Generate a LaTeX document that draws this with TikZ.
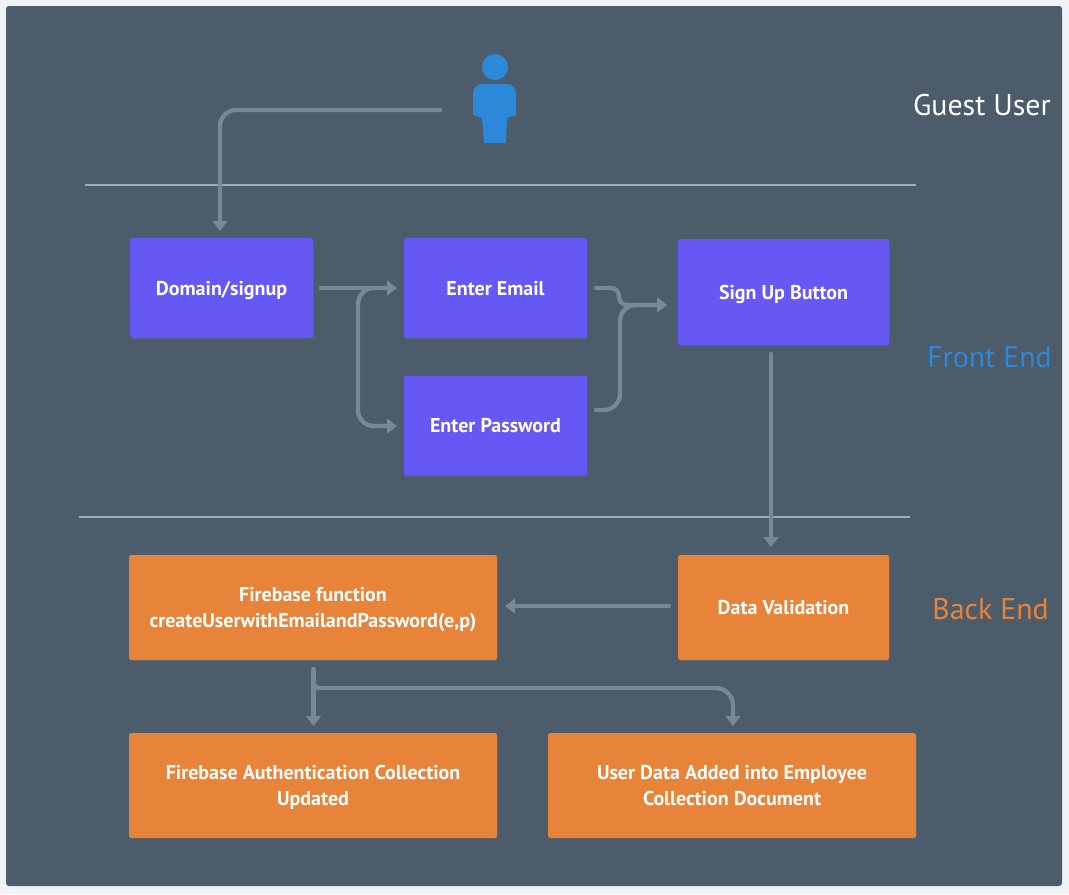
\documentclass[tikz,border=0pt]{standalone}
\usepackage{fontspec}
\setmainfont{PT Sans}
\usetikzlibrary{arrows.meta,shadows}
\definecolor{pagebg}{HTML}{EFF3F5}
\definecolor{panelbg}{HTML}{4C5C6B}
\definecolor{purplebox}{HTML}{6558F5}
\definecolor{orangebox}{HTML}{E8833A}
\definecolor{guestblue}{HTML}{2C88D9}
\definecolor{flowgray}{HTML}{788896}
\definecolor{rulegray}{HTML}{9EADBA}
\tikzset{
 box/.style={rectangle,rounded corners=1.8pt,text=white,align=center,inner sep=0pt,text depth=0pt,
  font=\fontsize{15}{19.5}\selectfont\bfseries,
  drop shadow={shadow xshift=0.6pt,shadow yshift=-0.9pt,opacity=0.18}},
 frontbox/.style={box,fill=purplebox},
 backbox/.style={box,fill=orangebox},
 layer/.style={font=\fontsize{22.4}{26}\selectfont,anchor=east,inner sep=0pt},
 flow/.style={draw=flowgray,line width=3.2pt,line cap=round,rounded corners=12pt},
 flowtip/.style={flow,-{Triangle[width=11pt,length=7.5pt]}},
 divider/.style={draw=rulegray,line width=1.5pt},
}
\begin{document}
\begin{tikzpicture}[x=0.75pt,y=-0.75pt]
 \useasboundingbox (0,0) rectangle (1069,894);
 \fill[pagebg] (0,0) rectangle (1069,894);
 \fill[panelbg,rounded corners=2.2pt] (6,6) rectangle (1062,886);
 % guest figure
 \fill[guestblue] (495,67) circle (13);
 \fill[guestblue,rounded corners=7pt] (473,117) -- (473,84) -- (516,84) -- (516,117) -- cycle;
 \fill[guestblue] (473,108) -- (473,115) -- (482,118) -- (484,143) -- (506,143) -- (507,118) -- (516,115) -- (516,108) -- cycle;
 % layers
 \node[layer,text=white] (guestlabel) at (1051,105) {Guest User};
 \node[layer,text=guestblue] (frontlabel) at (1052,357) {Front End};
 \node[layer,text=orangebox] (backlabel) at (1049,609) {Back End};
 \coordinate (ruleAa) at (85,185);
 \coordinate (ruleAb) at (916,185);
 \coordinate (ruleBa) at (79,517);
 \coordinate (ruleBb) at (910,517);
 \draw[divider] (ruleAa) -- (ruleAb);
 \draw[divider] (ruleBa) -- (ruleBb);
 % boxes
 \node[frontbox,minimum width=137.25pt,minimum height=75pt] (domain) at (221.5,288) {Domain/signup};
 \node[frontbox,minimum width=137.25pt,minimum height=75pt] (email) at (495.5,288) {Enter Email};
 \node[frontbox,minimum width=137.25pt,minimum height=75pt] (password) at (495.5,425.5) {Enter Password};
 \node[frontbox,minimum width=158.25pt,minimum height=79.5pt] (signup) at (783.5,292) {Sign Up Button};
 \node[backbox,minimum width=276pt,minimum height=78.75pt] (firebase) at (313,607.5) {Firebase function\\createUserwithEmailandPassword(e,p)};
 \node[backbox,minimum width=158.25pt,minimum height=78.75pt] (validation) at (783.5,607.5) {Data Validation};
 \node[backbox,minimum width=276pt,minimum height=78.75pt] (authcoll) at (313,785.5) {Firebase Authentication Collection\\Updated};
 \node[backbox,minimum width=276pt,minimum height=78.75pt] (empcoll) at (732,785.5) {User Data Added into Employee\\Collection Document};
 % connector ends
 \coordinate (guestout) at (440,110);
 \coordinate (domainin) at (220,231);
 \coordinate (domainout) at (321,288);
 \coordinate (emailin) at (397,288);
 \coordinate (splittop) at (382,288);
 \coordinate (passin) at (397,426);
 \coordinate (emailout) at (596,288);
 \coordinate (passout) at (596,410);
 \coordinate (signin) at (667,305);
 \coordinate (signout) at (771,354);
 \coordinate (validin) at (771,547);
 \coordinate (validout) at (669,606);
 \coordinate (firein) at (505,606);
 \coordinate (fireout) at (313.5,669);
 \coordinate (authin) at (313.5,726);
 \coordinate (empin) at (733,726);
 % connectors
 \draw[flowtip] (guestout) -| (domainin);
 \draw[flowtip] (domainout) -- (emailin);
 \draw[flowtip] (splittop) -- (358,288) -- (358,426) -- (passin);
 \draw[flowtip,rounded corners=6pt] (emailout) -- (619,288) -- (619,305) -- (signin);
 \draw[flowtip] (passout) -- (620,410) -- (620,305) -- (signin);
 \draw[flowtip] (signout) -- (validin);
 \draw[flowtip] (validout) -- (firein);
 \draw[flowtip] (fireout) -- (authin);
 \draw[flowtip,rounded corners=4pt] (fireout) -- (313.5,688) [rounded corners=13pt] -- (733,688) -- (empin);
\end{tikzpicture}
\end{document}
